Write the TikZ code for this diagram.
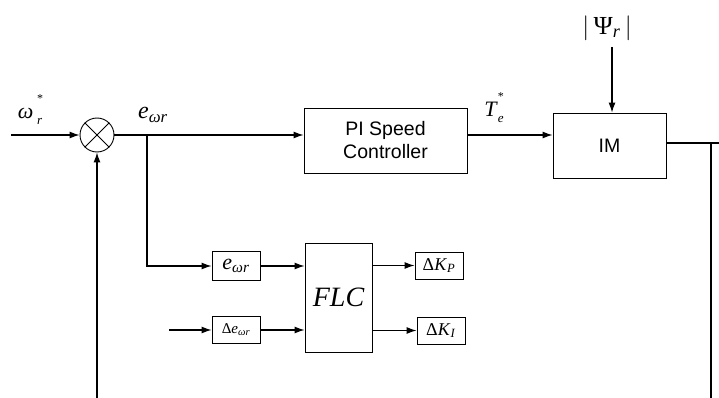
\documentclass[tikz,border=0pt]{standalone}
\usepackage{fontspec}
\setmainfont{Liberation Serif}
\setsansfont{Liberation Sans}
\usepackage{tikz}
\usetikzlibrary{arrows.meta,positioning,calc}

% star above a subscript, kept apart
\newcommand{\supsub}[2]{\makebox[0pt][l]{\raisebox{0.7em}{\fontsize{12}{12}\selectfont #1}}\raisebox{-0.3em}{\fontsize{13}{13}\selectfont #2}}
\newcommand{\ewr}{\textit{e}\textsubscript{\textit{ωr}}}

\begin{document}
\begin{tikzpicture}[x=1pt, y=-1pt,
    block/.style={rectangle, draw, line width=0.9pt, inner sep=0pt, text centered, align=center, font=\sffamily\fontsize{19.5}{23}\selectfont},
    smallbox/.style={rectangle, draw, line width=0.9pt, inner sep=0pt, minimum width=48pt, minimum height=27pt},
    sig/.style={draw, line width=1.1pt, -{Latex[length=10pt,width=7pt]}},
    wire/.style={draw, line width=1.1pt},
    lbl/.style={inner sep=0pt, font=\fontsize{22}{24}\selectfont}
]
    \useasboundingbox (0,0) rectangle (719,398);

    % Summing junction
    \node[circle, draw, line width=0.9pt, minimum size=34pt, inner sep=0pt] (sum) at (97,135) {};
    \draw[line width=0.8pt] (sum.north west) -- (sum.south east);
    \draw[line width=0.8pt] (sum.north east) -- (sum.south west);

    % Main blocks
    \node[block, minimum width=163pt, minimum height=65pt] (pi) at (385.5,140.5) {PI Speed\\Controller};
    \node[block, minimum width=113pt, minimum height=65pt] (im) at (609.5,145.5) {IM};
    \node[block, font=\itshape\fontsize{28}{30}\selectfont, minimum width=67pt, minimum height=109pt] (flc) at (338.5,297.5) {FLC};

    % FLC inputs and outputs
    \node[smallbox, minimum height=29pt, font=\fontsize{22}{24}\selectfont] (err) at (236,266) {\ewr};
    \node[smallbox, font=\fontsize{15}{17}\selectfont] (derr) at (236,330) {Δ\textit{e}\textsubscript{\textit{ωr}}};
    \node[smallbox, font=\fontsize{18}{20}\selectfont] (kp) at (439,265.5) {Δ\textit{K}\textsubscript{\textit{P}}};
    \node[smallbox, font=\fontsize{18}{20}\selectfont] (ki) at (441,330.5) {Δ\textit{K}\textsubscript{\textit{I}}};

    % Labels
    \node[lbl] (wref) at (30,110) {\textit{ω}\,\supsub{*}{\textit{r}}};
    \node[lbl, font=\fontsize{24}{26}\selectfont] (elbl) at (153,115) {\ewr};
    \node[lbl] (telbl) at (494,108) {\textit{T}\supsub{*}{\textit{e}}};
    \node[lbl, font=\fontsize{26}{28}\selectfont] (psilbl) at (607,28) {$|$\,Ψ\textsubscript{\textit{r}}\,$|$};

    % Free ends
    \coordinate (in) at (11,135);
    \coordinate (br) at (147,135);
    \coordinate (din) at (169,330);
    \coordinate (psi) at (612,47);
    \coordinate (out) at (719,143);
    \coordinate (fb) at (711,398);
    \coordinate (fbl) at (97,398);

    % Forward path
    \draw[sig] (in) -- (sum.west);
    \draw[sig] (sum.east) -- (pi.west |- sum.east);
    \draw[sig] (pi.east |- sum) -- (im.west |- sum);
    \draw[sig] (psi) -- (psi |- im.north);
    \draw[wire] (im.east |- out) -- (out);
    \draw[wire] (fb |- out) -- (fb);
    \draw[sig] (fbl) -- (sum.south);

    % Fuzzy tuning path
    \draw[sig] (br) |- (err.west);
    \draw[sig] (err) -- (flc.west |- err);
    \draw[sig] (din) -- (derr.west);
    \draw[sig] (derr) -- (flc.west |- derr);
    \draw[sig] (flc.east |- kp) -- (kp.west);
    \draw[sig] (flc.east |- ki) -- (ki.west);
\end{tikzpicture}
\end{document}
